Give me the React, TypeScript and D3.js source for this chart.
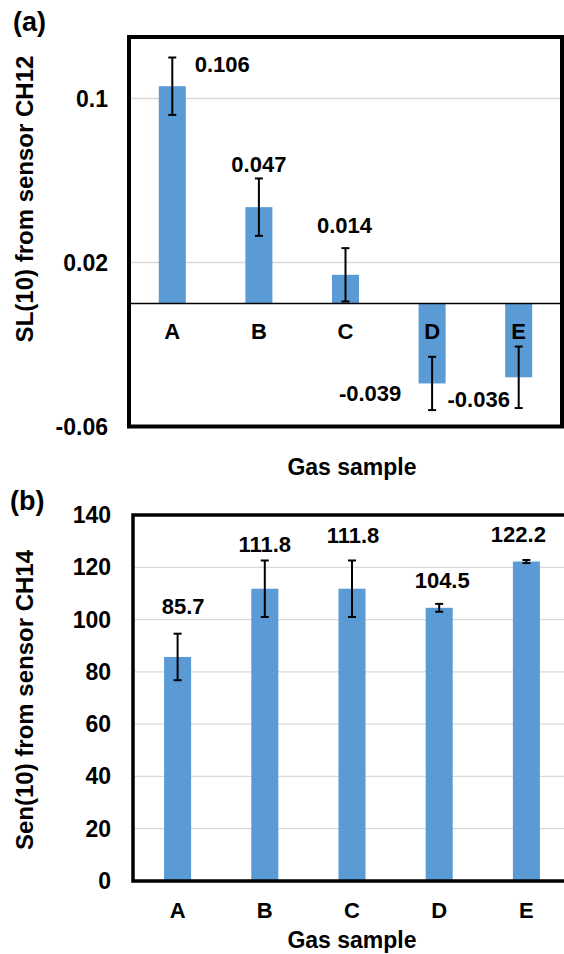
import React from "react";
import * as d3 from "d3";

const categories = ["A", "B", "C", "D", "E"];
const slValues = [0.106, 0.047, 0.014, -0.039, -0.036];
const slErrors = [0.014, 0.014, 0.013, 0.013, 0.015];
const slLabels = ["0.106", "0.047", "0.014", "-0.039", "-0.036"];
const slTicks = [0.1, 0.02, -0.06];
const slTickLabels = ["0.1", "0.02", "-0.06"];

const senValues = [85.7, 111.8, 111.8, 104.5, 122.2];
const senErrors = [8.9, 10.8, 10.8, 1.5, 0.6];
const senLabels = ["85.7", "111.8", "111.8", "104.5", "122.2"];
const senTicks = [0, 20, 40, 60, 80, 100, 120, 140];

const FONT = "'Liberation Sans', Arial, sans-serif";
const BAR = "#5B9BD5";
const GRID = "#D9D9D9";

export default function App() {
  // Panel (a)
  const xa = d3.scaleBand<string>().domain(categories).range([129, 562]).paddingInner(0.688).paddingOuter(0.344);
  const ya = d3.scaleLinear().domain([-0.06, 0.13]).range([426.5, 37]);
  // Panel (b)
  const xb = d3.scaleBand<string>().domain(categories).range([134, 570]).paddingInner(0.69).paddingOuter(0.345);
  const yb = d3.scaleLinear().domain([0, 140]).range([881, 515]);

  const aLabelOff = [
    [50, -22],
    [0, -43],
    [-1, -50],
    [-62, 9.5],
    [-40, 21.7],
  ];
  const bLabelOff = [
    [5.5, -51],
    [0, -44],
    [1, -53],
    [3, -28],
    [-8, -27],
  ];

  const cap = 4;

  const errBar = (x: number, y1: number, y2: number, key: string) => (
    <g key={key} stroke="#000" strokeWidth={2}>
      <line x1={x} x2={x} y1={y1} y2={y2} />
      <line x1={x - cap} x2={x + cap} y1={y1} y2={y1} />
      <line x1={x - cap} x2={x + cap} y1={y2} y2={y2} />
    </g>
  );

  const [ax0, ax1] = xa.range();
  const [ay0, ay1] = ya.range();
  const [bx0, bx1] = xb.range();
  const [by0, by1] = yb.range();

  return (
    <svg
      width={564}
      height={954}
      style={{ position: "absolute", left: 0, top: 0, background: "#fff" }}
      fontFamily={FONT}
      fontWeight="bold"
    >
      <rect x={0} y={0} width={564} height={954} fill="#fff" />
      {/* ---------- Panel (a) ---------- */}
      <text x={13} y={22} dy="0.35em" fontSize={27} fill="#000">(a)</text>
      {slTicks
        .filter((t) => t !== -0.06)
        .map((t) => (
          <line key={"ga" + t} x1={ax0} x2={ax1} y1={ya(t)} y2={ya(t)} stroke={GRID} strokeWidth={1.3} />
        ))}
      {categories.map((c, i) => {
        const v = slValues[i];
        const y0 = ya(0);
        const y1 = ya(v);
        return (
          <rect key={"ba" + c} x={xa(c)} width={xa.bandwidth()} y={Math.min(y0, y1)} height={Math.abs(y1 - y0)} fill={BAR} />
        );
      })}
      <line x1={ax0} x2={ax1} y1={ya(0)} y2={ya(0)} stroke="#000" strokeWidth={1.5} />
      {categories.map((c, i) => {
        const cx = (xa(c) as number) + xa.bandwidth() / 2;
        return errBar(cx, ya(slValues[i] + slErrors[i]), ya(slValues[i] - slErrors[i]), "ea" + c);
      })}
      {categories.map((c) => (
        <text key={"ca" + c} x={(xa(c) as number) + xa.bandwidth() / 2} y={331} dy="0.35em" textAnchor="middle" fontSize={22}>
          {c}
        </text>
      ))}
      {categories.map((c, i) => (
        <text
          key={"la" + c}
          x={(xa(c) as number) + xa.bandwidth() / 2 + aLabelOff[i][0]}
          y={ya(slValues[i]) + aLabelOff[i][1]}
          dy="0.35em"
          textAnchor="middle"
          fontSize={22}
        >
          {slLabels[i]}
        </text>
      ))}
      {slTicks.map((t, i) => (
        <text key={"ta" + t} x={108} y={ya(t)} dy="0.35em" textAnchor="end" fontSize={23}>
          {slTickLabels[i]}
        </text>
      ))}
      <rect x={ax0} y={ay1} width={ax1 - ax0} height={ay0 - ay1} fill="none" stroke="#000" strokeWidth={4} />
      <text transform="translate(25,199) rotate(-90)" dy="0.35em" textAnchor="middle" fontSize={24}>
        SL(10) from sensor CH12
      </text>
      <text x={352} y={467} dy="0.35em" textAnchor="middle" fontSize={23}>
        Gas sample
      </text>

      {/* ---------- Panel (b) ---------- */}
      <text x={10} y={501} dy="0.35em" fontSize={27} fill="#000">(b)</text>
      {senTicks
        .filter((t) => t !== 0 && t !== 140)
        .map((t) => (
          <line key={"gb" + t} x1={bx0} x2={bx1} y1={yb(t)} y2={yb(t)} stroke={GRID} strokeWidth={1.3} />
        ))}
      {categories.map((c, i) => (
        <rect key={"bb" + c} x={xb(c)} width={xb.bandwidth()} y={yb(senValues[i])} height={yb(0) - yb(senValues[i])} fill={BAR} />
      ))}
      {categories.map((c, i) => {
        const cx = (xb(c) as number) + xb.bandwidth() / 2;
        return errBar(cx, yb(senValues[i] + senErrors[i]), yb(senValues[i] - senErrors[i]), "eb" + c);
      })}
      {categories.map((c, i) => (
        <text
          key={"lb" + c}
          x={(xb(c) as number) + xb.bandwidth() / 2 + bLabelOff[i][0]}
          y={yb(senValues[i]) + bLabelOff[i][1]}
          dy="0.35em"
          textAnchor="middle"
          fontSize={22}
        >
          {senLabels[i]}
        </text>
      ))}
      {senTicks.map((t) => (
        <text key={"tb" + t} x={111} y={yb(t)} dy="0.35em" textAnchor="end" fontSize={23}>
          {t}
        </text>
      ))}
      <rect x={bx0 - 1} y={by1} width={bx1 - bx0 + 1} height={by0 - by1} fill="none" stroke="#000" strokeWidth={3.5} />
      {categories.map((c) => (
        <text key={"cb" + c} x={(xb(c) as number) + xb.bandwidth() / 2} y={910} dy="0.35em" textAnchor="middle" fontSize={22}>
          {c}
        </text>
      ))}
      <text transform="translate(25,700) rotate(-90)" dy="0.35em" textAnchor="middle" fontSize={24}>
        Sen(10) from sensor CH14
      </text>
      <text x={352} y={940} dy="0.35em" textAnchor="middle" fontSize={23}>
        Gas sample
      </text>
    </svg>
  );
}
